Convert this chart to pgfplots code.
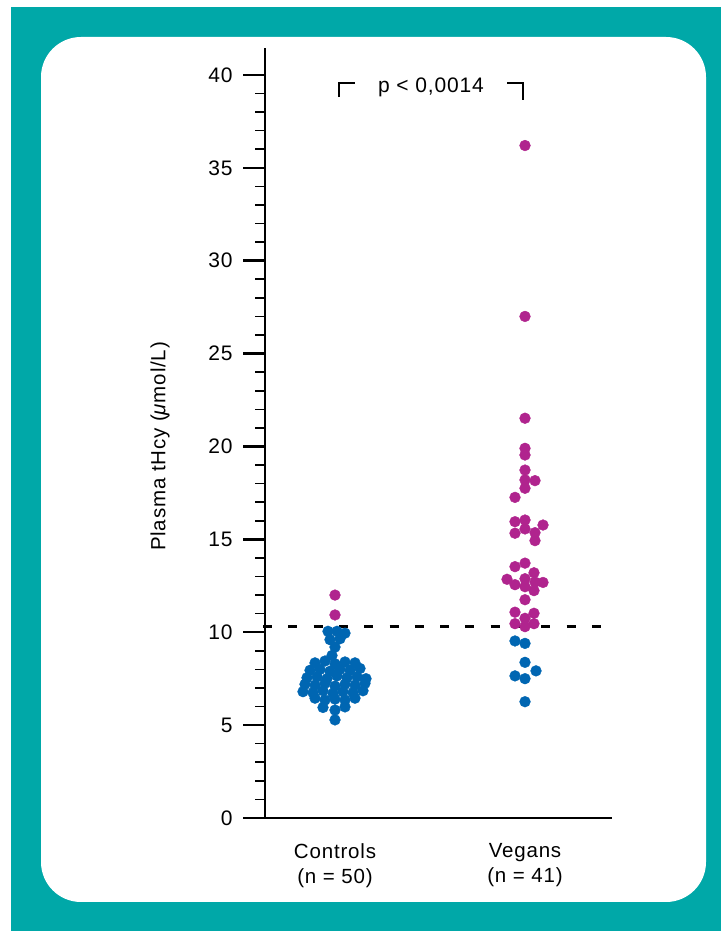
\documentclass[border=0pt]{standalone}
\usepackage{fontspec}
\setmainfont{Liberation Sans}[LetterSpace=4]
\usepackage{pgfplots}
\pgfplotsset{compat=1.18}
\definecolor{frame}{RGB}{0,168,168}
\definecolor{cblue}{RGB}{0,102,178}
\definecolor{cmag}{RGB}{176,36,142}
\begin{document}
\begin{tikzpicture}[x=1pt,y=1pt]
\fill[white] (0,0) rectangle (724,937);
\fill[frame] (11,6) rectangle (721,930);
\fill[white,rounded corners=40pt] (41,35) rectangle (706,900);
\begin{axis}[
  at={(265pt,119pt)}, anchor=south west,
  scale only axis, width=347pt, height=770pt,
  xmin=-70, xmax=277, ymin=0, ymax=41.45,
  clip=false,
  axis x line=bottom, axis y line=left,
  axis line style={line width=2.2pt,-},
  ytick={0,5,...,40},
  minor ytick={1,2,3,4,6,7,8,9,11,12,13,14,16,17,18,19,21,22,23,24,26,27,28,29,31,32,33,34,36,37,38,39},
  tick align=outside,
  major tick length=22pt, minor tick length=10pt,
  major tick style={line width=2.4pt, black},
  minor tick style={line width=1.6pt, black},
  major x tick style={draw=none},
  xtick={0,190},
  xticklabels={{Controls\\(n = 50)},{Vegans\\(n = 41)}},
  xticklabel style={align=center, font=\fontsize{20.5}{25}\selectfont},
  yticklabel style={font=\fontsize{21}{24}\selectfont, xshift=-7pt},
  /pgf/number format/assume math mode=true,
]
\addplot[black, line width=2.6pt, dash pattern=on 9pt off 16.3pt] coordinates {(-72,10.3) (266,10.3)};
% Controls
\addplot[only marks, color=cblue, mark=*, mark size=5.4pt, mark options={draw=cblue, fill=cblue}] coordinates {
(-7,10.05) (2,10.05) (10,9.95)
(-5,9.6) (5,9.65)
(0,9.2) (-3,8.75)
(-20,8.35) (-10,8.45) (0,8.3) (10,8.4) (20,8.35)
(-25,7.95) (-15,8.0) (-5,7.9) (5,8.0) (15,7.95) (25,8.05)
(-28,7.55) (-18,7.6) (-8,7.5) (2,7.65) (12,7.55) (22,7.6) (31,7.5)
(-30,7.2) (-20,7.15) (-10,7.25) (0,7.1) (10,7.2) (20,7.15) (30,7.25)
(-32,6.8) (-22,6.75) (-12,6.85) (-2,6.7) (8,6.8) (18,6.75) (28,6.85)
(-20,6.45) (-10,6.35) (0,6.4) (10,6.35) (20,6.45)
(-12,5.95) (10,5.98)
(0,5.81) (0,5.28)
};
\addplot[only marks, color=cmag, mark=*, mark size=5.4pt, mark options={draw=cmag, fill=cmag}] coordinates {
(0,12.0) (0,10.93)
};
% Vegans
\addplot[only marks, color=cmag, mark=*, mark size=5.4pt, mark options={draw=cmag, fill=cmag}] coordinates {
(190,36.2) (190,27.0)
(190,21.52) (190,19.9) (190,19.54) (190,18.73) (190,18.2) (200,18.16) (190,17.75) (180,17.26)
(180,15.95) (190,16.04) (190,15.56) (208,15.77) (180,15.33) (200,15.36) (200,14.93)
(180,13.53) (190,13.72) (199,13.2) (172,12.85) (180,12.56) (190,12.88) (190,12.45) (200,12.7) (208,12.68) (199,12.24) (190,11.75)
(180,11.08) (199,11.02) (190,10.75) (180,10.46) (190,10.3) (199,10.46)
};
\addplot[only marks, color=cblue, mark=*, mark size=5.4pt, mark options={draw=cblue, fill=cblue}] coordinates {
(180,9.53) (190,9.4) (190,8.38) (201,7.92) (180,7.65) (190,7.5) (190,6.26)
};
% significance bracket
\draw[line width=1.6pt] (axis cs:4,38.8) -- (axis cs:4,39.57) -- (axis cs:20,39.57);
\draw[line width=1.6pt] (axis cs:172,39.57) -- (axis cs:188,39.57) -- (axis cs:188,38.65);
\node[anchor=base, font=\fontsize{21}{24}\selectfont, inner sep=0pt] at (axis cs:96,39.03) {p < 0,0014};
\node[rotate=90, anchor=center, font=\fontsize{20.5}{24}\selectfont, inner sep=0pt] at (axis cs:-175,20) {Plasma tHcy (\textit{μ}mol/L)};
\end{axis}
\end{tikzpicture}
\end{document}
